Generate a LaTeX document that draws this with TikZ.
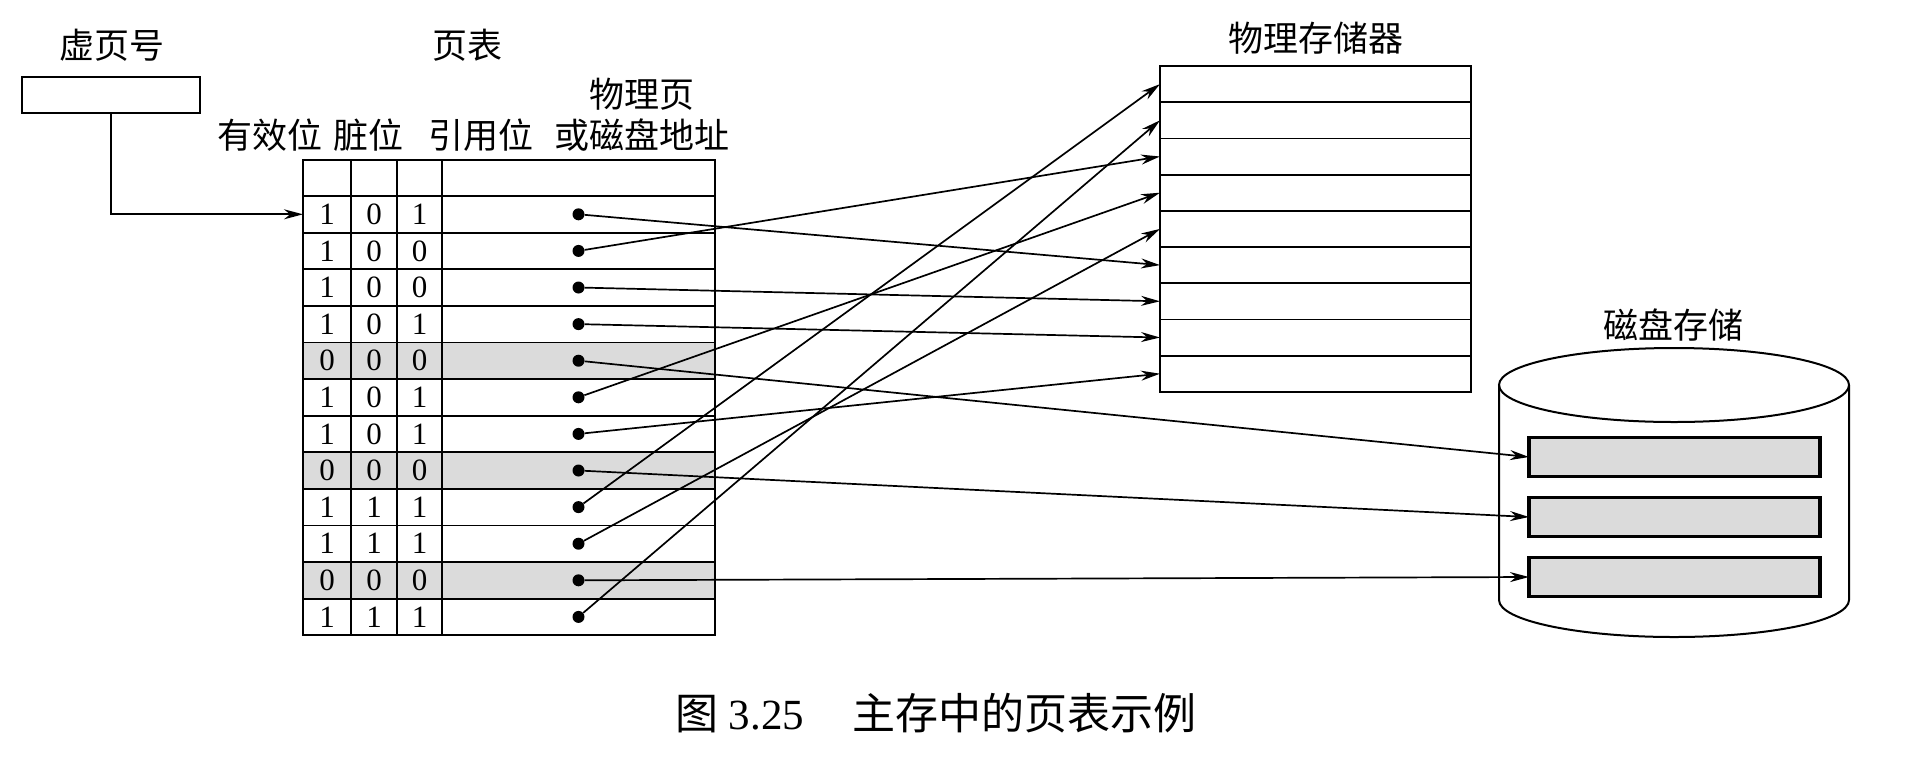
\documentclass[tikz,border=0pt]{standalone}
\usepackage{fontspec}
\setmainfont{Liberation Serif}
\newfontfamily\cjk{Noto Sans CJK SC}
\usetikzlibrary{arrows.meta, positioning}
\colorlet{shaded}{black!14}

\begin{document}
\begin{tikzpicture}[
	  x=1pt, y=-1pt,
	  node distance=0pt,
	  cntext/.style={font=\cjk\fontsize{35}{35}\selectfont, inner sep=0pt},
	  cell/.style={rectangle, draw=black, line width=1.8pt, minimum height=36.6pt, inner sep=0pt, outer sep=0pt, font=\fontsize{31}{31}\selectfont},
	  regbox/.style={rectangle, draw=black, line width=2.8pt, minimum width=178pt, minimum height=36pt},
	  memrow/.style={rectangle, draw=black, line width=1.8pt, minimum width=311pt, minimum height=36.2pt, outer sep=0pt},
	  block/.style={rectangle, draw=black, line width=3.2pt, fill=shaded, minimum width=291pt, minimum height=39pt, outer sep=0pt},
	  ptrdot/.style={circle, fill=black, inner sep=0pt, minimum size=12pt},
	  arrow/.style={line width=1.7pt, -{Stealth[length=19pt, width=10pt]}}
	]

	\fill [white] (0,0) rectangle (1922,764);
	\useasboundingbox (0,0) rectangle (1922,764);

	% virtual page number
	\node (vpnlbl) [cntext] at (112,45) {虚页号};
	\node (vpn) [regbox] at (111,95) {};

	% page table
	\node (ptlbl) [cntext] at (467,45) {页表};
	\node (oklbl) [cntext] at (270,135) {有效位};
	\node (dirtylbl) [cntext] at (368,135) {脏位};
	\node (reflbl) [cntext] at (481,135) {引用位};
	\node (addrlbl) [cntext] at (642,135) {或磁盘地址};
	\node (addrlbl2) [cntext] at (642,94) {物理页};

	\node (hok) [cell, minimum width=48pt, minimum height=36pt] at (327,178) {};
	\node (hdirty) [cell, minimum width=46pt, minimum height=36pt, right=of hok] {};
	\node (href) [cell, minimum width=45pt, minimum height=36pt, right=of hdirty] {};
	\node (haddr) [cell, minimum width=273pt, minimum height=36pt, right=of href] {};

	\foreach \a/\b/\c/\shade [count=\i] in {1/0/1/white, 1/0/0/white, 1/0/0/white, 1/0/1/white, 0/0/0/shaded, 1/0/1/white, 1/0/1/white, 0/0/0/shaded, 1/1/1/white, 1/1/1/white, 0/0/0/shaded, 1/1/1/white} {
		\node (ok\i) [cell, fill=\shade, minimum width=48pt] at (327,{177.7+36.6*\i}) {\a};
		\node (dirty\i) [cell, fill=\shade, minimum width=46pt, right=of ok\i] {\b};
		\node (ref\i) [cell, fill=\shade, minimum width=45pt, right=of dirty\i] {\c};
		\node (addr\i) [cell, fill=\shade, minimum width=273pt, right=of ref\i] {};
		\node (pg\i) [ptrdot] at (addr\i) {};
	}

	% physical memory
	\node (memlbl) [cntext] at (1316,38) {物理存储器};
	\foreach \i in {1,...,9}
		\node (m\i) [memrow] at (1315.5,{47.9+36.2*\i}) {};

	% disk
	\node (disklbl) [cntext] at (1673,325) {磁盘存储};
	\draw [line width=2pt] (1674,385) ellipse [x radius=175pt, y radius=37pt];
	\draw [line width=2pt] (1499,385) -- (1499,600) arc [start angle=180, end angle=360, x radius=175pt, y radius=37pt] -- (1849,385);
	\node (b1) [block] at (1674.5,457) {};
	\node (b2) [block] at (1674.5,517) {};
	\node (b3) [block] at (1674.5,577) {};

	\node (fig) [font=\fontsize{43}{43}\selectfont, inner sep=0pt] at (936,713) {{\cjk 图}\hspace{10pt}3.25\hspace{48pt}{\cjk 主存中的页表示例}};

	\draw [arrow] (vpn.south) |- (ok1.west);
	\draw [arrow] (pg1) -- (m6.west);
	\draw [arrow] (pg2) -- (m3.west);
	\draw [arrow] (pg3) -- (m7.west);
	\draw [arrow] (pg4) -- (m8.west);
	\draw [arrow] (pg5) -- (b1.west);
	\draw [arrow] (pg6) -- (m4.west);
	\draw [arrow] (pg7) -- (m9.west);
	\draw [arrow] (pg8) -- (b2.west);
	\draw [arrow] (pg9) -- (m1.west);
	\draw [arrow] (pg10) -- (m5.west);
	\draw [arrow] (pg11) -- (b3.west);
	\draw [arrow] (pg12) -- (m2.west);

	\end{tikzpicture}
\end{document}
